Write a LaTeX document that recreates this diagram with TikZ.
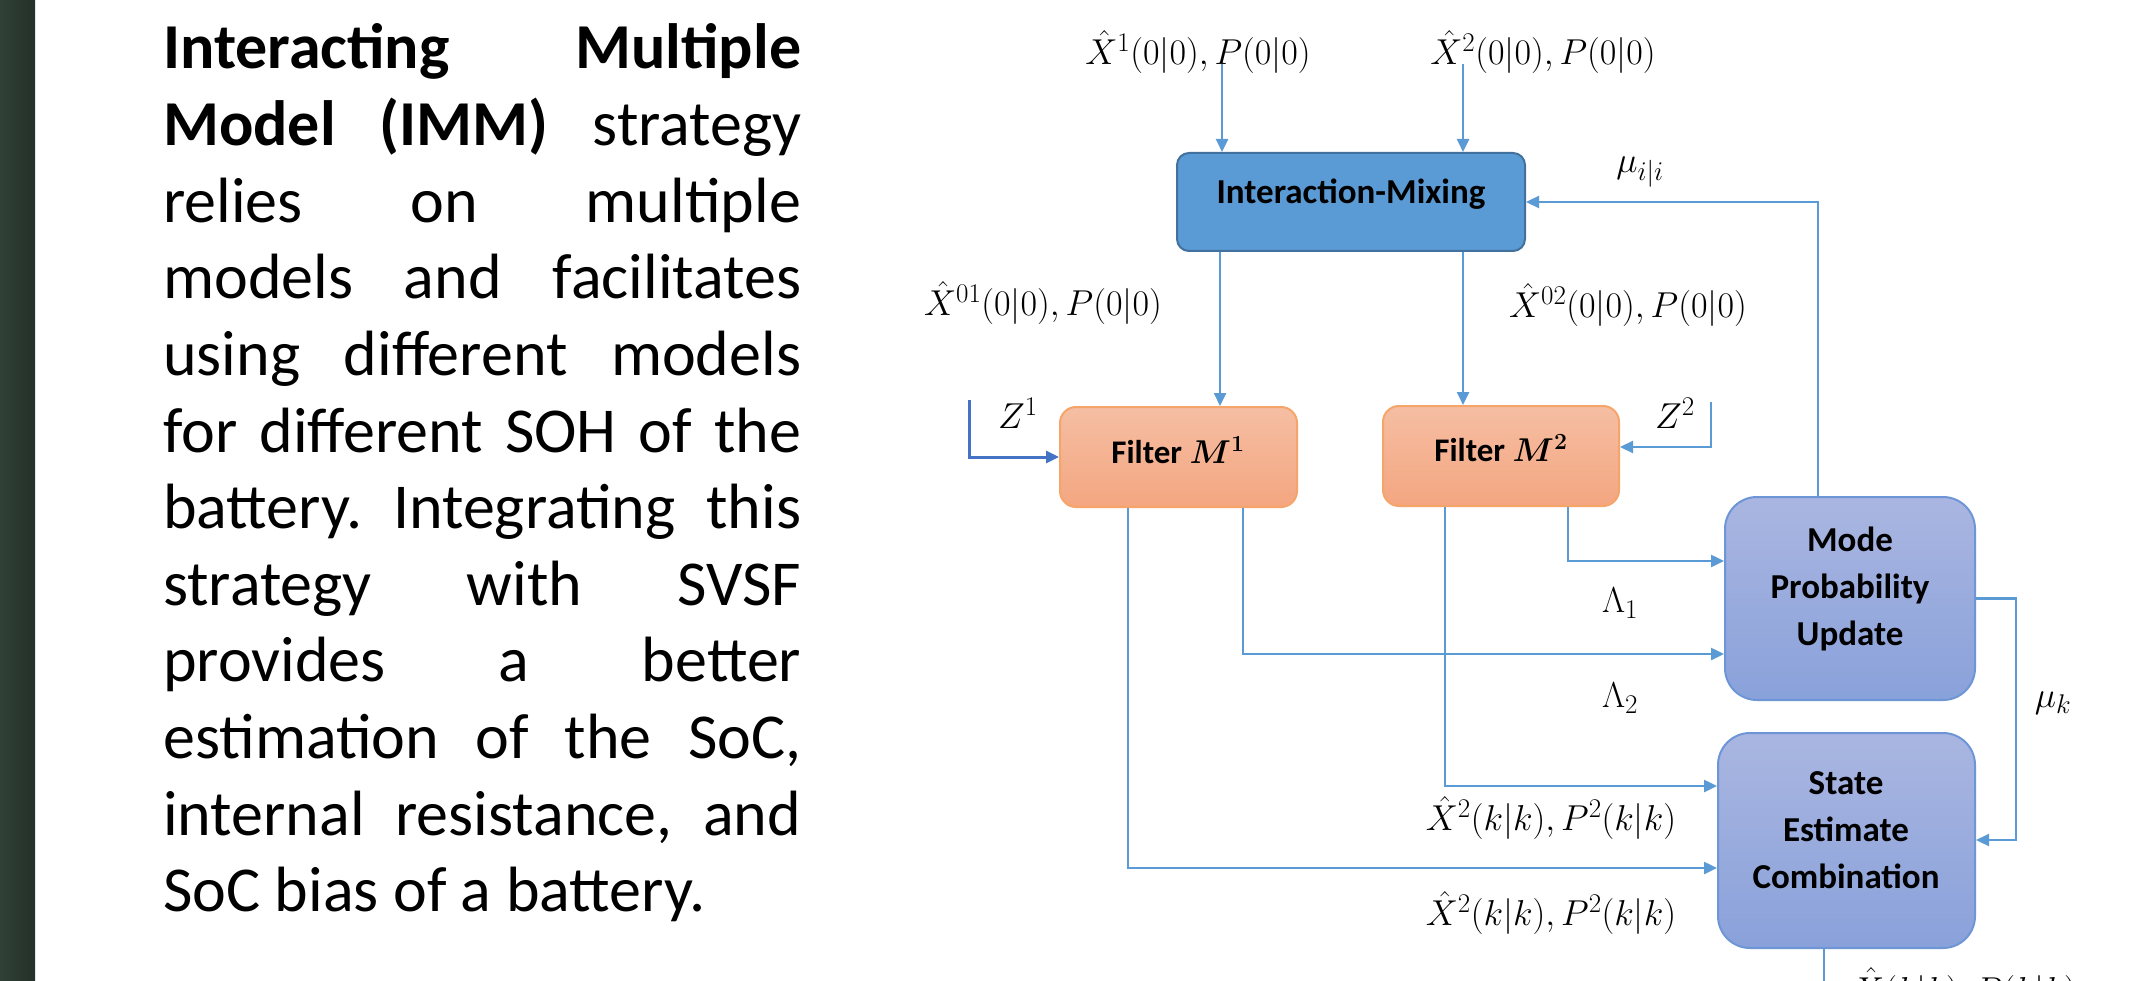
\RequirePackage{fix-cm}
\documentclass[tikz,border=0pt]{standalone}
\usepackage{amsmath}
\usepackage{fontspec}
\newfontfamily\calib{Carlito}
\DeclareMathSizes{36}{36}{27}{20}
\usetikzlibrary{arrows.meta}
\definecolor{lnblue}{RGB}{91,155,213}
\definecolor{zblue}{RGB}{68,114,196}
\definecolor{imfill}{RGB}{91,155,213}
\definecolor{imborder}{RGB}{65,113,156}
\definecolor{ftop}{RGB}{245,190,163}
\definecolor{fbot}{RGB}{244,166,128}
\definecolor{fborder}{RGB}{245,165,105}
\definecolor{mtop}{RGB}{170,182,225}
\definecolor{mbot}{RGB}{137,161,218}
\definecolor{mborder}{RGB}{110,150,215}
\definecolor{barL}{RGB}{48,64,55}
\definecolor{barR}{RGB}{36,48,41}
\begin{document}
\begin{tikzpicture}[x=1pt,y=-1pt,
  conn/.style={draw=lnblue,line width=2.4pt},
  arr/.style={conn,-{Triangle[length=13pt,width=12pt]}},
  imbox/.style={draw=imborder,line width=2pt,fill=imfill,rounded corners=12pt,inner sep=0pt},
  filterbox/.style={draw=fborder,line width=2pt,top color=ftop,bottom color=fbot,rounded corners=16pt,inner sep=0pt},
  modebox/.style={draw=mborder,line width=2pt,top color=mtop,bottom color=mbot,rounded corners=32pt,inner sep=0pt},
  btxt/.style={font=\calib\bfseries\fontsize{35}{47}\selectfont,align=center,inner sep=0pt},
  mlbl/.style={font=\fontsize{36}{42}\selectfont,inner sep=0pt},
  bodyl/.style={font=\calib\fontsize{64}{76.6}\selectfont,anchor=base west,inner sep=0pt},
]
\useasboundingbox (0,0) rectangle (2143,981);
\clip (0,0) rectangle (2143,981);
\fill[white] (0,0) rectangle (2143,981);
\shade[left color=barL,right color=barR] (0,0) rectangle (35,981);

% body text
\node[bodyl] (b1) at (163,69) {\hbox to 638pt{\bfseries Interacting\hfill Multiple}};
\node[bodyl] (b2) at (163,145.6) {\hbox to 638pt{\textbf{Model}\hfill\textbf{(IMM)}\hfill strategy}};
\node[bodyl] (b3) at (163,222.2) {\hbox to 638pt{relies\hfill on\hfill multiple}};
\node[bodyl] (b4) at (163,298.8) {\hbox to 638pt{models\hfill and\hfill facilitates}};
\node[bodyl] (b5) at (163,375.4) {\hbox to 638pt{using\hfill different\hfill models}};
\node[bodyl] (b6) at (163,452) {\hbox to 638pt{for\hfill different\hfill SOH\hfill of\hfill the}};
\node[bodyl] (b7) at (163,528.6) {\hbox to 638pt{battery.\hfill Integrating\hfill this}};
\node[bodyl] (b8) at (163,605.2) {\hbox to 638pt{strategy\hfill with\hfill SVSF}};
\node[bodyl] (b9) at (163,681.8) {\hbox to 638pt{provides\hfill a\hfill better}};
\node[bodyl] (b10) at (163,758.4) {\hbox to 638pt{estimation\hfill of\hfill the\hfill SoC,}};
\node[bodyl] (b11) at (163,835) {\hbox to 638pt{internal\hfill resistance,\hfill and}};
\node[bodyl] (b12) at (163,911.6) {SoC bias of a battery.};

% boxes
\node[imbox,minimum width=348pt,minimum height=98pt] (im) at (1351,202) {};
\node[filterbox,minimum width=237pt,minimum height=100pt] (f1) at (1178.5,457) {};
\node[filterbox,minimum width=236pt,minimum height=100pt] (f2) at (1501,456) {};
\node[modebox,minimum width=250pt,minimum height=203pt] (mb) at (1850,598.5) {};
\node[modebox,minimum width=257pt,minimum height=215pt] (sb) at (1846.5,840.5) {};

\node[btxt] (imt) at (1351,194) {Interaction-Mixing};
\node[btxt,font=\calib\bfseries\fontsize{33}{47}\selectfont] (f1t) at (1178,450) {Filter {\boldmath$M^1$}};
\node[btxt,font=\calib\bfseries\fontsize{33}{47}\selectfont] (f2t) at (1501,448) {Filter {\boldmath$M^2$}};
\node[btxt] (mbt) at (1850,589) {Mode\\Probability\\Update};
\node[btxt] (sbt) at (1846,830) {State\\Estimate\\Combination};

% labels
\node[mlbl] (l1) at (1198,52) {$\hat{X}^1(0|0), P(0|0)$};
\node[mlbl] (l2) at (1543,52) {$\hat{X}^2(0|0), P(0|0)$};
\node[mlbl] (l01) at (1043,303) {$\hat{X}^{01}(0|0), P(0|0)$};
\node[mlbl] (l02) at (1628,305) {$\hat{X}^{02}(0|0), P(0|0)$};
\node[mlbl] (lmu) at (1640,172) {$\mu_{i|i}$};
\node[mlbl] (lz1) at (1018,413) {$Z^1$};
\node[mlbl] (lz2) at (1675,413) {$Z^2$};
\node[mlbl] (lL1) at (1620,603) {$\Lambda_1$};
\node[mlbl] (lL2) at (1620,698) {$\Lambda_2$};
\node[mlbl] (lmuk) at (2053,703) {$\mu_k$};
\node[mlbl] (lx1) at (1551,818) {$\hat{X}^2(k|k), P^2(k|k)$};
\node[mlbl] (lx2) at (1551,913) {$\hat{X}^2(k|k), P^2(k|k)$};
\node[mlbl,anchor=base west] (lout) at (1852,1002) {$\hat{X}(k|k), P(k|k)$};

% helper coordinates
\coordinate (c1222) at (1222,0);
\coordinate (c1463) at (1463,0);
\coordinate (c1220) at (1220,0);
\coordinate (c1128) at (1128,0);
\coordinate (c1243) at (1243,0);
\coordinate (c1445) at (1445,0);
\coordinate (c1568) at (1568,0);
\coordinate (c1818) at (1818,0);
\coordinate (c1824) at (1824,0);
\coordinate (r64) at (0,64);
\coordinate (r457) at (0,457);
\coordinate (r447) at (0,447);
\coordinate (r561) at (0,561);
\coordinate (r654) at (0,654);
\coordinate (r786) at (0,786);
\coordinate (r868) at (0,868);
\coordinate (r840) at (0,840);
\coordinate (rbot) at (0,995);
\coordinate (z1s) at (969,400);
\coordinate (z2s) at (1711,402);

% connectors
\draw[arr] (c1222 |- r64) -- (im.north -| c1222);
\draw[arr] (c1463 |- r64) -- (im.north -| c1463);
\draw[arr] (im.south -| c1220) -- (f1.north -| c1220);
\draw[arr] (im.south -| c1463) -- (f2.north -| c1463);
\draw[arr,draw=zblue,line width=3pt] (z1s) |- (f1.west |- r457);
\draw[arr] (z2s) |- (f2.east |- r447);
\draw[arr] (f2.south -| c1568) |- (mb.west |- r561);
\draw[arr] (f1.south -| c1243) |- (mb.west |- r654);
\draw[arr] (f2.south -| c1445) |- (sb.west |- r786);
\draw[arr] (f1.south -| c1128) |- (sb.west |- r868);
\draw[arr] (mb.north -| c1818) |- (im.east);
\draw[arr] (mb.east) -- ++(40,0) |- (sb.east |- r840);
\draw[conn] (sb.south -| c1824) -- (c1824 |- rbot);
\end{tikzpicture}
\end{document}
